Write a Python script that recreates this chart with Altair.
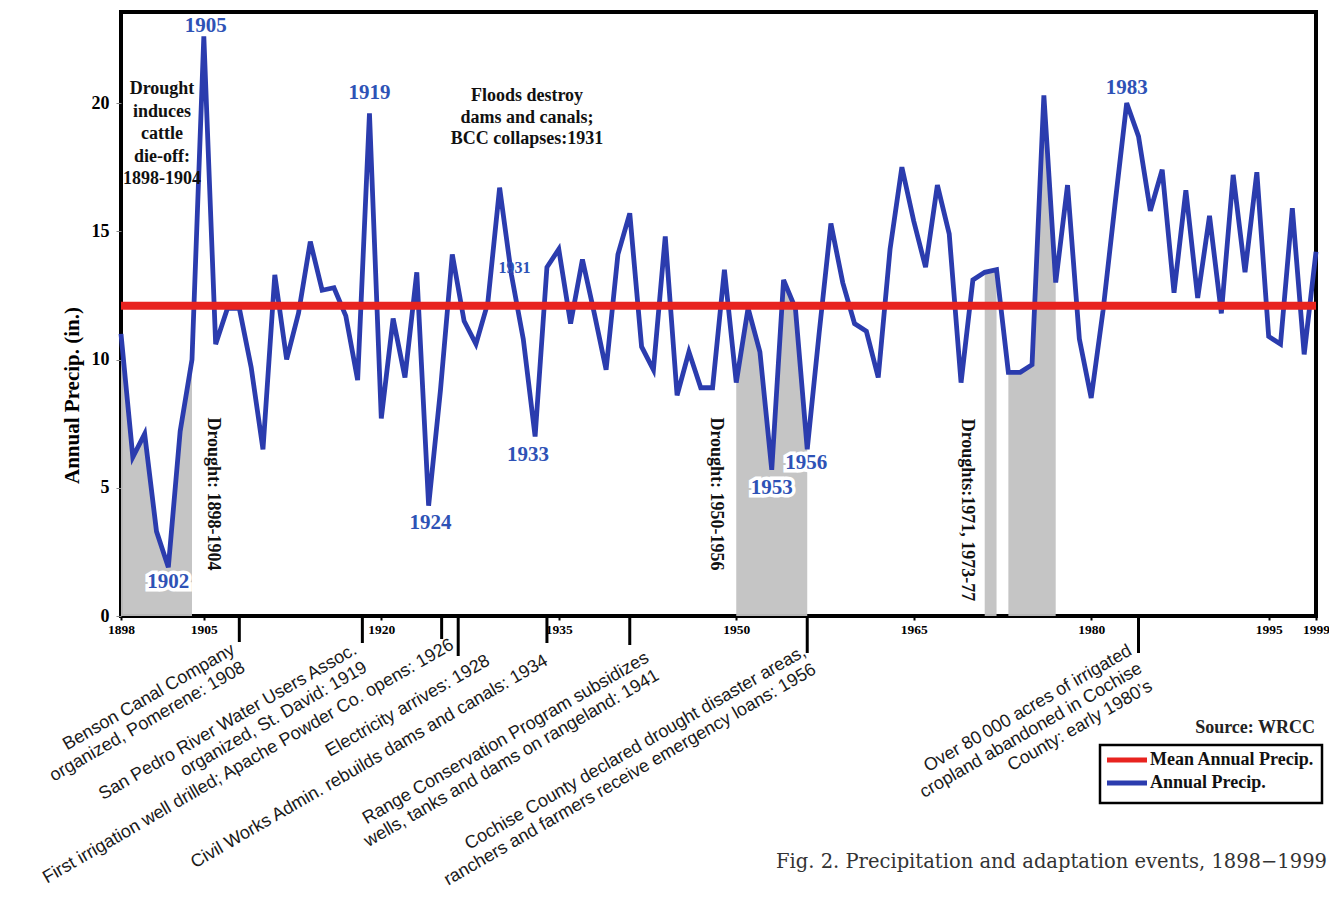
import altair as alt
import pandas as pd

# ---------------- data ----------------
years = list(range(1898, 2000))
annual_precip = [
    11.0, 6.2, 7.1, 3.3, 1.9, 7.2, 10.0, 22.6, 10.6, 12.0,     # 1898-1907
    12.0, 9.7, 6.5, 13.3, 10.0, 11.8, 14.6, 12.7, 12.8, 11.7,  # 1908-1917
    9.2, 19.6, 7.7, 11.6, 9.3, 13.4, 4.3, 8.8, 14.1, 11.5,     # 1918-1927
    10.6, 12.2, 16.7, 13.3, 10.8, 7.0, 13.6, 14.3, 11.4, 13.9, # 1928-1937
    11.8, 9.6, 14.1, 15.7, 10.5, 9.6, 14.8, 8.6, 10.3, 8.9,    # 1938-1947
    8.9, 13.5, 9.1, 12.0, 10.3, 5.7, 13.1, 12.0, 6.5, 11.0,    # 1948-1957
    15.3, 13.0, 11.4, 11.1, 9.3, 14.3, 17.5, 15.4, 13.6, 16.8, # 1958-1967
    14.9, 9.1, 13.1, 13.4, 13.5, 9.5, 9.5, 9.8, 20.3, 13.0,    # 1968-1977
    16.8, 10.8, 8.5, 11.9, 16.0, 20.0, 18.7, 15.8, 17.4, 12.6, # 1978-1987
    16.6, 12.4, 15.6, 11.8, 17.2, 13.4, 17.3, 10.9, 10.6, 15.9,# 1988-1997
    10.2, 14.2,                                                # 1998-1999
]
mean_precip = 12.1
series_names = ["Mean Annual Precip.", "Annual Precip."]
series_colors = ["#e8231f", "#2b3cae"]

drought_names = ["1898-1904", "1950-1956", "1971", "1973-77"]
drought_starts = [1898, 1950, 1971, 1973]
drought_ends = [1904, 1956, 1972, 1977]

x_tick_years = [1898, 1905, 1920, 1935, 1950, 1965, 1980, 1995, 1999]
y_ticks = [0, 5, 10, 15, 20]

peak_years = [1905, 1919, 1983, 1924, 1933, 1953, 1956, 1902, 1931]
peak_texts = ["1905", "1919", "1983", "1924", "1933", "1953", "1956", "1902", "1931"]

event_years = [1908, 1918.4, 1925.1, 1926.5, 1934, 1941, 1956, 1984]
event_texts = [
    "Benson Canal Company\norganized, Pomerene: 1908",
    "San Pedro River Water Users Assoc.\norganized, St. David: 1919",
    "First irrigation well drilled; Apache Powder Co. opens: 1926",
    "Electricity arrives: 1928",
    "Civil Works Admin. rebuilds dams and canals: 1934",
    "Range Conservation Program subsidizes\nwells, tanks and dams on rangeland: 1941",
    "Cochise County declared drought disaster areas,\nranchers and farmers receive emergency loans: 1956",
    "Over 80\u2009000 acres of irrigated\ncropland abandoned in Cochise\nCounty: early 1980\u2019s",
]

# ---------------- tables ----------------
df = pd.DataFrame({"year": years, "precip": annual_precip, "series": "Annual Precip."})
mean_df = pd.DataFrame({"precip": [mean_precip], "series": ["Mean Annual Precip."]})
area_rows = []
for name, s, e in zip(drought_names, drought_starts, drought_ends):
    sub = df[(df.year >= s) & (df.year <= e)].copy()
    sub["period"] = name
    area_rows.append(sub)
area_df = pd.concat(area_rows)

# ---------------- layout helpers ----------------
W, H = 1195, 604
OX, OY = 121, 12  # page position of plot origin


def px(v):
    return alt.value(v - OX)


def py(v):
    return alt.value(v - OY)


SERIF = "Liberation Serif"
SANS = "Liberation Sans"

x_scale = alt.Scale(domain=[1898, 1999], nice=False, zero=False)
y_scale = alt.Scale(domain=[0, 23.55], nice=False, zero=True)

x_axis = alt.Axis(values=x_tick_years, format="d", title=None, labelFont=SERIF,
                  labelFontWeight="bold", labelFontSize=13.5, labelColor="black",
                  tickColor="black", tickSize=4, tickWidth=2, domain=False, grid=False,
                  labelPadding=2, labelFlush=False, labelOverlap=False)
y_axis = alt.Axis(values=y_ticks, title="Annual Precip. (in.)", titleFont=SERIF,
                  titleFontWeight="bold", titleFontSize=21, titleColor="black",
                  titleAngle=270, titleX=-49, titleY=383, titleAlign="center",
                  titleBaseline="middle", labelFont=SERIF, labelFontWeight="bold",
                  labelFontSize=18, labelColor="black", tickColor="#888",
                  tickSize=5, labelPadding=7, domain=False, grid=False)

X = alt.X("year:Q", scale=x_scale, axis=x_axis)
Y = alt.Y("precip:Q", scale=y_scale, axis=y_axis)

color = alt.Color("series:N",
                  scale=alt.Scale(domain=series_names, range=series_colors),
                  legend=None)

layers = []

# drought shading
layers.append(alt.Chart(area_df).mark_area(color="#c2c2c2", opacity=0.95).encode(
    x=X, y=alt.Y("precip:Q", scale=y_scale, axis=y_axis, stack=None), detail="period:N"))

# annual precip line
layers.append(alt.Chart(df).mark_line(strokeWidth=4.8, strokeJoin="miter").encode(
    x=X, y=Y, color=color))

# mean line
layers.append(alt.Chart(mean_df).mark_rule(strokeWidth=8).encode(y=Y, color=color))

# peak labels
peak_style = {
    "1905": (2, -10), "1919": (0, -20), "1983": (0, -15), "1924": (2, 17),
    "1933": (-7, 19), "1953": (0, 18), "1956": (-1, 14), "1902": (0, 15), "1931": (3, -7),
}
halo = {"1924", "1933", "1953", "1956", "1902"}
val_of = dict(zip(years, annual_precip))
for yr, txt in zip(peak_years, peak_texts):
    d = pd.DataFrame({"year": [yr], "precip": [val_of[yr]], "label": [txt]})
    dx, dy = peak_style[txt]
    small = txt == "1931"
    kw = dict(font=SERIF, fontSize=16 if small else 21, fontWeight="bold",
              dx=dx, dy=dy, align="center", baseline="middle")
    if txt in halo:
        layers.append(alt.Chart(d).mark_text(color="white", stroke="white",
                                             strokeWidth=7, **kw).encode(
            x=X, y=Y, text="label:N"))
    layers.append(alt.Chart(d).mark_text(color="#2e52b6", **kw).encode(
        x=X, y=Y, text="label:N"))

# black annotation texts inside plot
black_bold = dict(font=SERIF, fontWeight="bold", fontSize=18, color="#111")
layers.append(alt.Chart(pd.DataFrame({"t": ["Drought\ninduces\ncattle\ndie-off:\n1898-1904"]}))
              .mark_text(align="center", baseline="top", lineBreak="\n", lineHeight=22.5,
                         **black_bold).encode(text="t:N", x=px(162), y=py(80)))
layers.append(alt.Chart(pd.DataFrame({"t": ["Floods destroy\ndams and canals;\nBCC collapses:1931"]}))
              .mark_text(align="center", baseline="top", lineBreak="\n", lineHeight=21.7,
                         **black_bold).encode(text="t:N", x=px(527), y=py(87)))
for txt, cx, cy in [("Drought: 1898-1904", 213, 494), ("Drought: 1950-1956", 716, 494),
                    ("Droughts:1971, 1973-77", 967, 510)]:
    layers.append(alt.Chart(pd.DataFrame({"t": [txt]})).mark_text(
        angle=90, align="center", baseline="middle", **black_bold).encode(
        text="t:N", x=px(cx), y=py(cy)))

# event ticks below axis
tick_bottoms = [642, 643, 639, 656, 643, 645, 653, 653]
for ey, bot in zip(event_years, tick_bottoms):
    layers.append(alt.Chart(pd.DataFrame({"year": [ey]})).mark_rule(
        color="black", strokeWidth=3).encode(x=X, y=py(616), y2=py(bot)))

# rotated event labels
anchors = [(236, 653), (358, 653), (455, 648), (491, 664), (549, 664),
           (650, 661), (807, 655), (1133, 654)]
for txt, (ax, ay) in zip(event_texts, anchors):
    layers.append(alt.Chart(pd.DataFrame({"t": [txt]})).mark_text(
        angle=330, align="right", baseline="alphabetic", lineBreak="\n", lineHeight=20.5,
        font=SANS, fontSize=18, color="#1a1a1a").encode(text="t:N", x=px(ax), y=py(ay)))

# legend (drawn in the plot's pixel space, colours from the series scale)
layers.append(alt.Chart(pd.DataFrame({"k": [0]})).mark_rect(
    fill="white", stroke="black", strokeWidth=2.5).encode(
    x=px(1100), x2=px(1322), y=py(745), y2=py(803)))
for i, (name, col) in enumerate(zip(series_names, series_colors)):
    ly = 760 + 23 * i
    layers.append(alt.Chart(pd.DataFrame({"k": [0]})).mark_rule(
        color=col, strokeWidth=5).encode(x=px(1107), x2=px(1147), y=py(ly)))
    layers.append(alt.Chart(pd.DataFrame({"t": [name]})).mark_text(
        align="left", baseline="middle", font=SERIF, fontWeight="bold", fontSize=18,
        color="#111").encode(text="t:N", x=px(1150), y=py(ly)))

# source & caption
layers.append(alt.Chart(pd.DataFrame({"t": ["Source: WRCC"]})).mark_text(
    align="right", baseline="middle", font=SERIF, fontWeight="bold", fontSize=18,
    color="#222").encode(text="t:N", x=px(1315), y=py(728)))
layers.append(alt.Chart(pd.DataFrame({"t": ["Fig. 2. Precipitation and adaptation events, 1898\u22121999"]}))
              .mark_text(align="right", baseline="middle", font="DejaVu Serif", fontSize=19.5,
                         color="#333").encode(text="t:N", x=px(1327), y=py(862)))

chart = alt.layer(*layers).properties(
    width=W, height=H,
    padding={"left": 113, "top": 4, "right": 13, "bottom": 276},
    autosize=alt.AutoSizeParams(type="none"),
    background="white",
).configure_view(stroke="black", strokeWidth=4)

chart.save("out.html", embed_options={"renderer": "svg", "actions": False})
